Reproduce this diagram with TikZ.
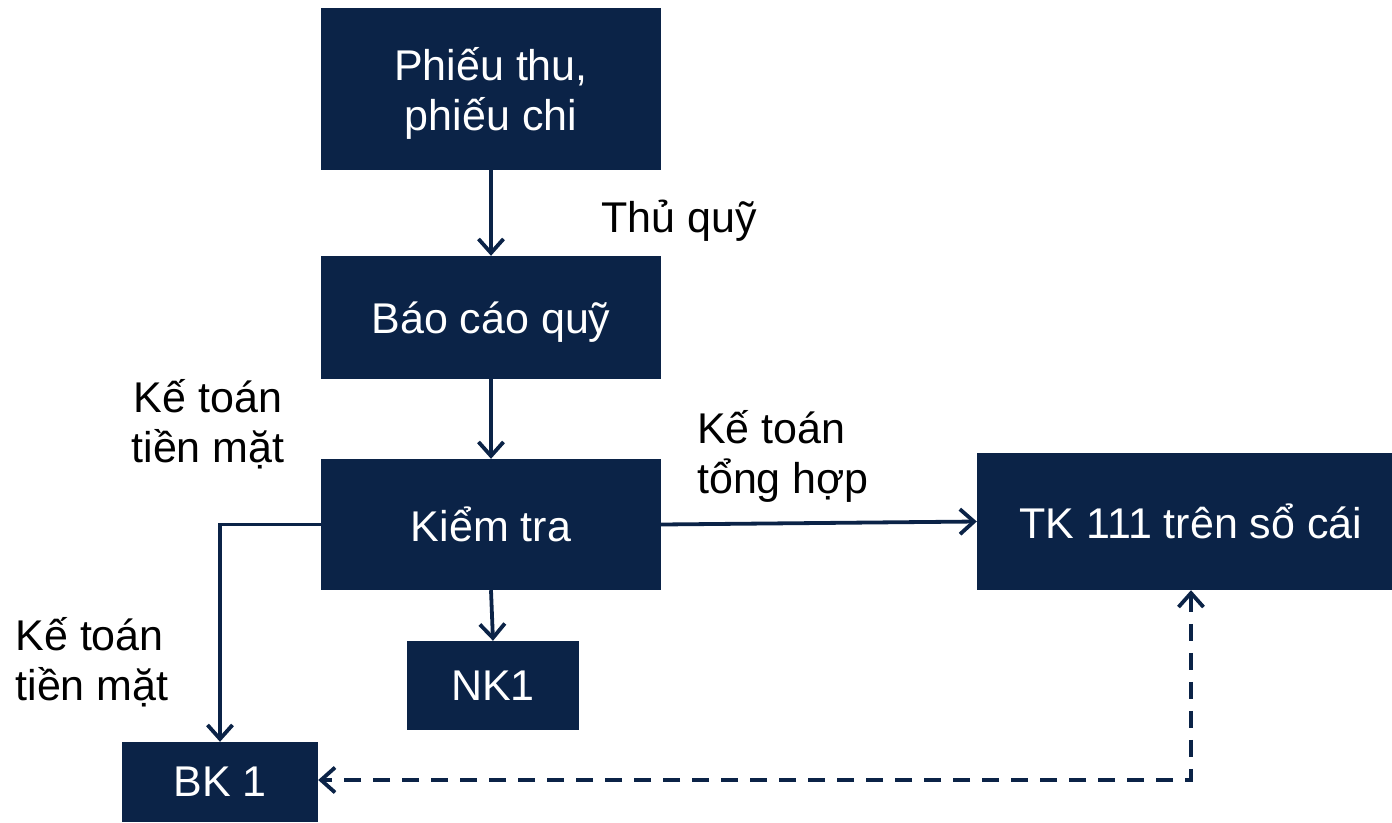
\documentclass[tikz,border=0pt]{standalone}
\usepackage{fontspec}
\setmainfont{Liberation Sans}
\usetikzlibrary{arrows.meta}
\definecolor{navy}{RGB}{11,35,71}
\begin{document}
\begin{tikzpicture}[x=1pt,y=-1pt,
  box/.style={fill=navy, text=white, inner sep=0pt, align=center, text depth=0pt,
              font=\fontsize{43}{50}\selectfont},
  lbl/.style={text=black, inner sep=0pt, font=\fontsize{43}{50}\selectfont},
  tip/.tip={Straight Barb[length=14pt,width=25pt,line width=3.8pt]},
  flow/.style={draw=navy, line width=3.8pt, -tip},
  link/.style={draw=navy, line width=3.8pt, tip-tip, dash pattern=on 17pt off 12pt}]
\useasboundingbox (0,0) rectangle (1392,822);

% process boxes (the ledger box runs past the right edge)
\node[box, minimum width=340pt, minimum height=162pt] (phieu) at (491,89) {Phiếu thu,\\phiếu chi};
\node[box, minimum width=340pt, minimum height=123pt] (bao) at (491,317.5) {Báo cáo quỹ};
\node[box, minimum width=340pt, minimum height=131pt] (kiem) at (491,524.5) {Kiểm tra};
\node[box, minimum width=172pt, minimum height=89pt] (nk) at (493,685.5) {NK1};
\node[box, minimum width=196pt, minimum height=80pt] (bk) at (220,782) {BK 1};
\node[box, minimum width=428pt, minimum height=137pt] (tk) at (1191,521.5) {TK 111 trên sổ cái};

% role labels
\node[lbl] (thu) at (679,221) {Thủ quỹ};
\node[lbl, align=center] (kt1) at (208,424) {Kế toán\\tiền mặt};
\node[lbl, align=left] (kt2) at (783,456) {Kế toán\\tổng hợp};
\node[lbl, align=left] (kt3) at (92,662) {Kế toán\\tiền mặt};

% flows
\draw[flow] (phieu.south) -- (bao.north);
\draw[flow] (bao.south) -- (kiem.north);
\draw[flow] (kiem.south) -- (nk.north);
\draw[flow] (kiem.west) -| (bk.north);
\draw[flow] (kiem.east) -- (tk.west);
\coordinate (bke) at ([yshift=2pt]bk.east);
\draw[link] (tk.south) |- (bke);
\end{tikzpicture}
\end{document}
